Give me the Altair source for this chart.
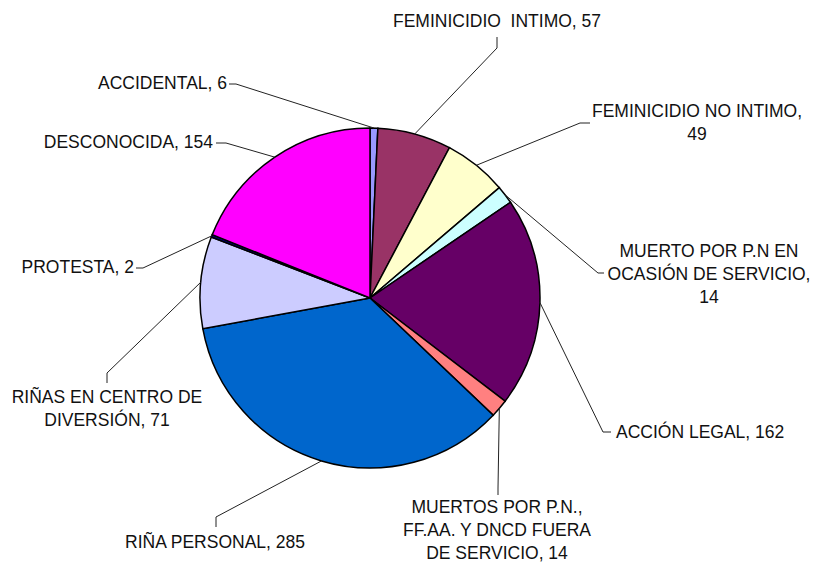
import math
import altair as alt
import pandas as pd

# ---------------- data ----------------
categories = [
    "ACCIDENTAL",
    "FEMINICIDIO  INTIMO",
    "FEMINICIDIO NO INTIMO",
    "MUERTO POR P.N EN OCASIÓN DE SERVICIO",
    "ACCIÓN LEGAL",
    "MUERTOS POR P.N., FF.AA. Y DNCD FUERA DE SERVICIO",
    "RIÑA PERSONAL",
    "RIÑAS EN CENTRO DE DIVERSIÓN",
    "PROTESTA",
    "DESCONOCIDA",
]
values = [6, 57, 49, 14, 162, 14, 285, 71, 2, 154]
label_texts = [
    "ACCIDENTAL, 6",
    "FEMINICIDIO \u00a0INTIMO, 57",
    "FEMINICIDIO NO INTIMO,\n49",
    "MUERTO POR P.N EN\nOCASIÓN DE SERVICIO,\n14",
    "ACCIÓN LEGAL, 162",
    "MUERTOS POR P.N.,\nFF.AA. Y DNCD FUERA\nDE SERVICIO, 14",
    "RIÑA PERSONAL, 285",
    "RIÑAS EN CENTRO DE\nDIVERSIÓN, 71",
    "PROTESTA, 2",
    "DESCONOCIDA, 154",
]
colors = [
    "#9999FF", "#993366", "#FFFFCC", "#CCFFFF", "#660066",
    "#FF8080", "#0066CC", "#CCCCFF", "#000080", "#FF00FF",
]

# ---------------- layout (chart pixel coords) ----------------
W, H = 804, 554
OFF = 8  # page margin
CX, CY, R = 370 - OFF, 298 - OFF, 170
FONT = "Liberation Sans"
FS = 17.5
LH = 23

# label anchor (image coords; y = first line centre), alignment
label_pos = [
    (227, 84, "right"),
    (497, 22, "center"),
    (697, 112, "center"),
    (709, 252, "center"),
    (616, 433, "left"),
    (497, 508, "center"),
    (215, 543, "center"),
    (107, 398, "center"),
    (134, 268, "right"),
    (213, 143, "right"),
]
# leader elbow and end (image coords)
leader_pts = [
    [(236, 84), (229, 84)],
    [(497, 48), (497, 37)],
    [(580, 123), (590, 123)],
    [(598, 273), (604, 273)],
    [(603, 432), (611, 432)],
    [(498, 488), (498, 495)],
    [(216, 517), (216, 527)],
    [(107, 373), (107, 383)],
    [(143, 268), (136, 268)],
    [(226, 143), (216, 143)],
]

total = sum(values)
pie_df = pd.DataFrame({
    "cat": categories,
    "value": values,
    "idx": list(range(len(values))),
})

lines = []
cum = 0
for i, v in enumerate(values):
    a = (cum + v / 2) / total * 2 * math.pi
    cum += v
    ex = CX + R * math.sin(a)
    ey = CY - R * math.cos(a)
    pts = [(ex, ey)] + [(px - OFF, py - OFF) for px, py in leader_pts[i]]
    for k, (px, py) in enumerate(pts):
        lines.append({"id": i, "k": k, "x": px, "y": py})
lines_df = pd.DataFrame(lines)

lab_df = pd.DataFrame({
    "text": label_texts,
    "x": [p[0] - OFF for p in label_pos],
    "y": [p[1] - OFF for p in label_pos],
    "align": [p[2] for p in label_pos],
})

xs = alt.Scale(domain=[0, W])
ys = alt.Scale(domain=[0, H], reverse=True)

pie = alt.Chart(pie_df).mark_arc(
    radius=R, stroke="black", strokeWidth=1.5
).encode(
    theta=alt.Theta("value:Q", stack=True),
    order=alt.Order("idx:Q"),
    color=alt.Color("cat:N", scale=alt.Scale(domain=categories, range=colors), legend=None),
    x=alt.value(CX),
    y=alt.value(CY),
)

leaders = alt.Chart(lines_df).mark_line(color="#222222", strokeWidth=1).encode(
    x=alt.X("x:Q", scale=xs, axis=None),
    y=alt.Y("y:Q", scale=ys, axis=None),
    detail="id:N",
    order="k:Q",
)

text_layers = []
for al in ["left", "center", "right"]:
    text_layers.append(
        alt.Chart(lab_df).transform_filter(alt.datum.align == al).mark_text(
            align=al, baseline="middle", font=FONT, fontSize=FS,
            lineBreak="\n", lineHeight=LH, color="#111111",
        ).encode(
            x=alt.X("x:Q", scale=xs, axis=None),
            y=alt.Y("y:Q", scale=ys, axis=None),
            text="text:N",
        )
    )

chart = alt.layer(pie, leaders, *text_layers).properties(
    width=W, height=H, padding=0, autosize="none", background="white"
).configure_view(stroke=None)

chart.save("out.html", embed_options={"renderer": "svg", "actions": False})
